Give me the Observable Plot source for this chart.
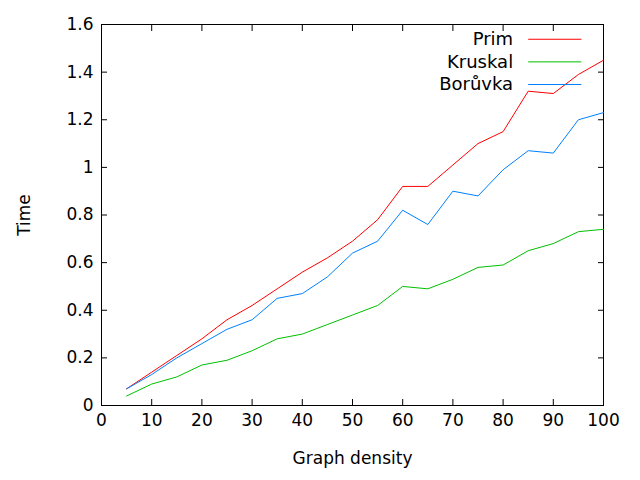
<!DOCTYPE html>
<html>
<head>
<meta charset="utf-8">
<script src="https://cdn.jsdelivr.net/npm/d3@7"></script>
<script src="https://cdn.jsdelivr.net/npm/@observablehq/plot@0.6"></script>
<style>
  body { margin: 0; background: white; }
</style>
</head>
<body>
<div id="chart"></div>
<script>
const density = [5, 10, 15, 20, 25, 30, 35, 40, 45, 50, 55, 60, 65, 70, 75, 80, 85, 90, 95, 100];
const prim = [0.07, 0.14, 0.21, 0.28, 0.36, 0.42, 0.49, 0.56, 0.62, 0.69, 0.78, 0.92, 0.92, 1.01, 1.10, 1.15, 1.32, 1.31, 1.39, 1.45];
const kruskal = [0.04, 0.09, 0.12, 0.17, 0.19, 0.23, 0.28, 0.30, 0.34, 0.38, 0.42, 0.50, 0.49, 0.53, 0.58, 0.59, 0.65, 0.68, 0.73, 0.74];
const boruvka = [0.07, 0.13, 0.20, 0.26, 0.32, 0.36, 0.45, 0.47, 0.54, 0.64, 0.69, 0.82, 0.76, 0.90, 0.88, 0.99, 1.07, 1.06, 1.20, 1.23];
const xTicks = d3.range(0, 101, 10);
const yTicks = [0, 0.2, 0.4, 0.6, 0.8, 1, 1.2, 1.4, 1.6];

const names = ["Prim", "Kruskal", "Borůvka"];
const colors = ["#ff0000", "#00c000", "#0080ff"];
const seriesVals = [prim, kruskal, boruvka];

const rows = [];
names.forEach((n, i) => density.forEach((d, j) => rows.push({name: n, x: d, y: seriesVals[i][j]})));

// legend positions in data space
const legend = names.map((n, i) => ({name: n, y: 1.538 - i * 0.095}));

const plot = Plot.plot({
  width: 640,
  height: 480,
  marginLeft: 101,
  marginRight: 37,
  marginTop: 24,
  marginBottom: 75,
  style: {fontFamily: "DejaVu Sans, sans-serif", fontSize: "17px", color: "black"},
  x: {domain: [0, 100]},
  y: {domain: [0, 1.6]},
  color: {domain: names, range: colors},
  marks: [
    Plot.frame({stroke: "black", strokeWidth: 1}),
    Plot.axisX({anchor: "bottom", ticks: xTicks, tickSize: -6, tickPadding: 14, label: "Graph density", labelAnchor: "center", labelArrow: "none", labelOffset: 58, fontSize: 17}),
    Plot.axisX({anchor: "top", ticks: xTicks, tickSize: -6, tickFormat: () => "", label: null}),
    Plot.axisY({anchor: "left", ticks: yTicks, tickSize: -6, tickPadding: 14, tickFormat: d => d3.format("~g")(d), label: "Time", labelAnchor: "center", labelArrow: "none", labelOffset: 84, fontSize: 17}),
    Plot.axisY({anchor: "right", ticks: yTicks, tickSize: -6, tickFormat: () => "", label: null}),
    Plot.line(rows, {x: "x", y: "y", z: "name", stroke: "name", strokeWidth: 1}),
    Plot.text(legend, {x: 82, y: "y", text: "name", textAnchor: "end", fontSize: 18}),
    Plot.link(legend, {x1: 85, x2: 95.6, y1: "y", y2: "y", stroke: "name", strokeWidth: 1})
  ]
});

document.querySelector("#chart").appendChild(plot);
</script>
</body>
</html>
